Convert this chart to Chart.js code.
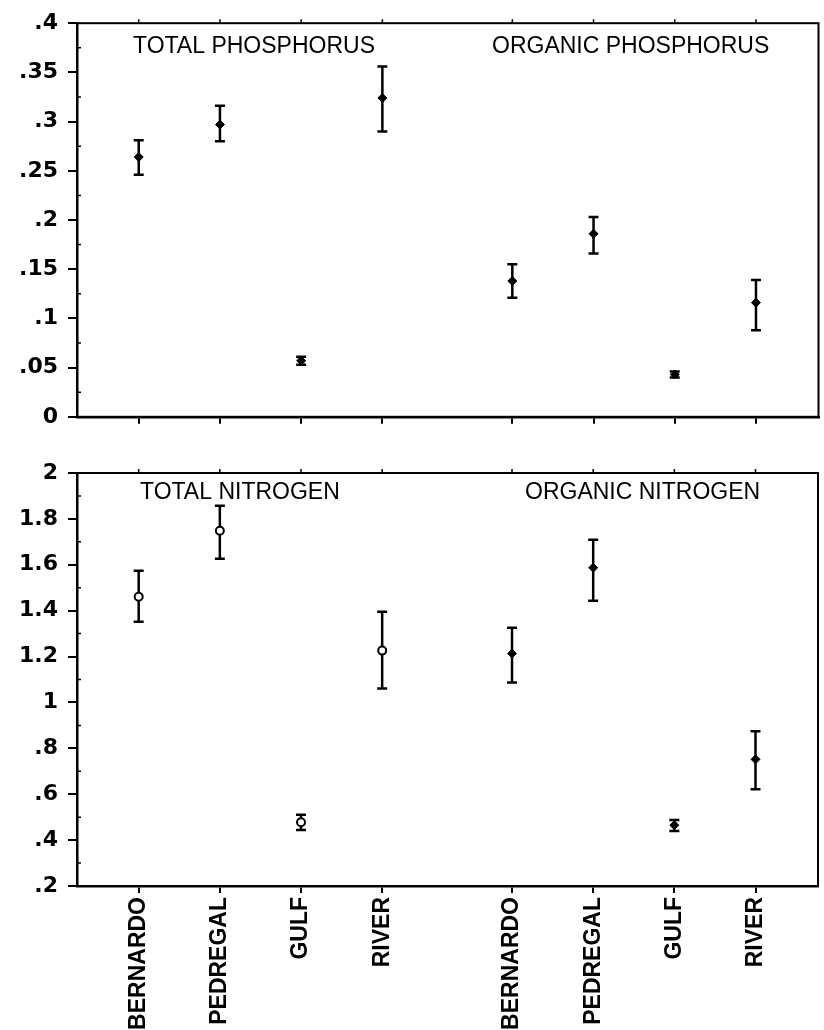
<!DOCTYPE html>
<html>
<head>
<meta charset="utf-8">
<script src="https://cdn.jsdelivr.net/npm/chart.js@4.4.1/dist/chart.umd.min.js"></script>
<style>
  html, body { margin: 0; padding: 0; background: #fff; }
  #wrap { position: relative; width: 824px; height: 1030px; }
  canvas { position: absolute; left: 0; }
</style>
</head>
<body>
<div id="wrap">
  <canvas id="phos" width="824" height="440" style="top:0"></canvas>
  <canvas id="nitro" width="824" height="590" style="top:440px"></canvas>
</div>
<script>
const sites = ["BERNARDO", "PEDREGAL", "GULF", "RIVER"];
// slots on the x axis: total on the left, organic fraction on the right
const totalSlots = [1, 2, 3, 4];
const organicSlots = [5.6, 6.6, 7.6, 8.6];

const totalP = [0.264, 0.297, 0.057, 0.324];
const totalPLow = [0.246, 0.280, 0.053, 0.290];
const totalPHigh = [0.281, 0.316, 0.061, 0.356];
const organicP = [0.138, 0.186, 0.043, 0.116];
const organicPLow = [0.121, 0.166, 0.040, 0.088];
const organicPHigh = [0.155, 0.203, 0.046, 0.139];

const totalN = [1.461, 1.748, 0.478, 1.226];
const totalNLow = [1.352, 1.626, 0.444, 1.061];
const totalNHigh = [1.574, 1.857, 0.510, 1.395];
const organicN = [1.213, 1.587, 0.465, 0.752];
const organicNLow = [1.087, 1.443, 0.440, 0.622];
const organicNHigh = [1.326, 1.709, 0.488, 0.874];

const phosTicks = [0, 0.05, 0.1, 0.15, 0.2, 0.25, 0.3, 0.35, 0.4];
const nitroTicks = [0.2, 0.4, 0.6, 0.8, 1, 1.2, 1.4, 1.6, 1.8, 2];

const allSlots = totalSlots.concat(organicSlots);
const slotLabels = sites.concat(sites);

function points(slots, values) {
  return slots.map((s, i) => ({ x: s, y: values[i] }));
}

function fmt(v) {
  return String(Number(v.toFixed(3))).replace(/^0\./, ".");
}

// vertical error bars with caps, drawn under the points
const errorBars = {
  id: "errorBars",
  beforeDatasetsDraw(chart) {
    const { ctx, scales: { x, y } } = chart;
    ctx.save();
    ctx.strokeStyle = "#000";
    ctx.lineWidth = 2.5;
    ctx.lineCap = "butt";
    chart.data.datasets.forEach((ds) => {
      ds.data.forEach((pt, i) => {
        const px = x.getPixelForValue(pt.x);
        const top = y.getPixelForValue(ds.high[i]);
        const bot = y.getPixelForValue(ds.low[i]);
        ctx.beginPath();
        ctx.moveTo(px, top);
        ctx.lineTo(px, bot);
        ctx.moveTo(px - 5, top);
        ctx.lineTo(px + 5, top);
        ctx.moveTo(px - 5, bot);
        ctx.lineTo(px + 5, bot);
        ctx.stroke();
      });
    });
    ctx.restore();
  },
};

// box around the plot, small inside ticks, panel captions
const frame = {
  id: "frame",
  afterDraw(chart, args, opts) {
    const { ctx, chartArea: a, scales: { x, y } } = chart;
    ctx.save();
    ctx.strokeStyle = "#000";
    ctx.lineWidth = 2;
    ctx.strokeRect(a.left, a.top, a.right - a.left, a.bottom - a.top);

    ctx.lineWidth = 1.5;
    ctx.beginPath();
    const t = y.ticks;
    for (let i = 0; i < t.length - 1; i++) {
      const py = y.getPixelForValue((t[i].value + t[i + 1].value) / 2);
      ctx.moveTo(a.left, py);
      ctx.lineTo(a.left + 4, py);
    }
    x.ticks.forEach((tk) => {
      const px = x.getPixelForValue(tk.value);
      ctx.moveTo(px, a.top);
      ctx.lineTo(px, a.top - 4);
    });
    ctx.stroke();

    ctx.fillStyle = "#000";
    ctx.font = "23px 'Liberation Sans', Arial, sans-serif";
    ctx.textBaseline = "middle";
    ctx.textAlign = "left";
    opts.captions.forEach((c) => {
      ctx.fillText(c.text, c.left, a.top + c.dy);
    });
    ctx.restore();
  },
};

function makeChart(canvasId, cfg) {
  return new Chart(document.getElementById(canvasId), {
    type: "scatter",
    data: { datasets: cfg.datasets },
    options: {
      responsive: false,
      animation: false,
      layout: { padding: { top: cfg.padTop, right: 4, left: 0, bottom: 0 } },
      plugins: {
        legend: { display: false },
        tooltip: { enabled: false },
        frame: { captions: cfg.captions },
      },
      scales: {
        x: {
          type: "linear",
          min: 0.24,
          max: 9.37,
          afterBuildTicks: (scale) => {
            scale.ticks = allSlots.map((v) => ({ value: v }));
          },
          afterFit: (scale) => {
            scale.height = cfg.xHeight;
          },
          border: { display: true, color: "#000", width: 2.5 },
          grid: {
            display: true,
            drawOnChartArea: false,
            drawTicks: true,
            tickLength: 7,
            color: "#000",
            lineWidth: 2,
          },
          ticks: {
            display: cfg.showLabels,
            autoSkip: false,
            maxRotation: 90,
            minRotation: 90,
            padding: 4,
            color: "#000",
            font: { family: "'Liberation Sans', Arial, sans-serif", size: 23, weight: "bold" },
            callback: (v) => slotLabels[allSlots.indexOf(v)] || "",
          },
        },
        y: {
          min: cfg.yTicks[0],
          max: cfg.yTicks[cfg.yTicks.length - 1],
          afterBuildTicks: (scale) => {
            scale.ticks = cfg.yTicks.map((v) => ({ value: v }));
          },
          afterFit: (scale) => {
            scale.width = 77;
          },
          border: { display: true, color: "#000", width: 2.5 },
          grid: {
            display: true,
            drawOnChartArea: false,
            drawTicks: true,
            tickLength: 9,
            color: "#000",
            lineWidth: 2,
          },
          ticks: {
            padding: 10,
            color: "#000",
            font: { family: "'DejaVu Sans', sans-serif", size: 22, weight: "bold" },
            callback: (v) => fmt(v),
          },
        },
      },
    },
    plugins: [errorBars, frame],
  });
}

makeChart("phos", {
  padTop: 14,
  xHeight: 18,
  showLabels: false,
  yTicks: phosTicks,
  captions: [
    { text: "TOTAL PHOSPHORUS", left: 133, dy: 23 },
    { text: "ORGANIC PHOSPHORUS", left: 492, dy: 23 },
  ],
  datasets: [
    {
      label: "Total phosphorus",
      data: points(totalSlots, totalP),
      low: totalPLow,
      high: totalPHigh,
      pointStyle: "rectRot",
      pointRadius: 4.5,
      backgroundColor: "#000",
      borderColor: "#000",
      borderWidth: 1,
    },
    {
      label: "Organic phosphorus",
      data: points(organicSlots, organicP),
      low: organicPLow,
      high: organicPHigh,
      pointStyle: "rectRot",
      pointRadius: 4.5,
      backgroundColor: "#000",
      borderColor: "#000",
      borderWidth: 1,
    },
  ],
});

makeChart("nitro", {
  padTop: 33,
  xHeight: 144,
  showLabels: true,
  yTicks: nitroTicks,
  captions: [
    { text: "TOTAL NITROGEN", left: 140, dy: 20 },
    { text: "ORGANIC NITROGEN", left: 525, dy: 20 },
  ],
  datasets: [
    {
      label: "Total nitrogen",
      data: points(totalSlots, totalN),
      low: totalNLow,
      high: totalNHigh,
      pointStyle: "circle",
      pointRadius: 4,
      backgroundColor: "#fff",
      borderColor: "#000",
      borderWidth: 2,
    },
    {
      label: "Organic nitrogen",
      data: points(organicSlots, organicN),
      low: organicNLow,
      high: organicNHigh,
      pointStyle: "rectRot",
      pointRadius: 4.5,
      backgroundColor: "#000",
      borderColor: "#000",
      borderWidth: 1,
    },
  ],
});
</script>
</body>
</html>
